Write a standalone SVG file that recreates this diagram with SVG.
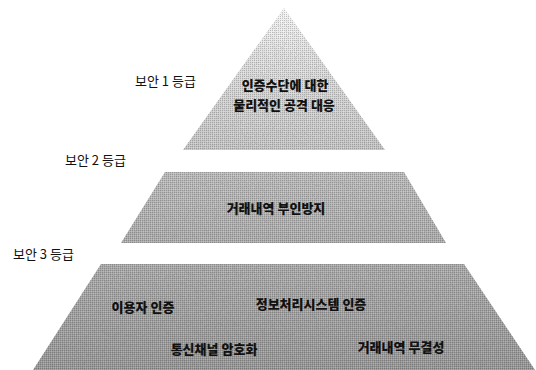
<svg xmlns="http://www.w3.org/2000/svg" width="536" height="370" viewBox="0 0 536 370">
  <style>
    .lvl { font-family: "Noto Sans CJK KR", "Noto Sans", sans-serif; font-size: 13px; fill: #111; }
    .in { font-family: "Noto Sans CJK KR", "Noto Sans", sans-serif; font-size: 13px; font-weight: 900; fill: #111; text-anchor: middle; }
    .grain { fill: url(#dither); }
    .noise { filter: url(#noise); }
  </style>
  <defs>
    <linearGradient id="g1" x1="0" y1="0" x2="0" y2="1">
      <stop offset="0" stop-color="#fbfbfb"/>
      <stop offset="0.35" stop-color="#e2e2e2"/>
      <stop offset="1" stop-color="#c6c6c6"/>
    </linearGradient>
    <linearGradient id="g2" x1="0" y1="0" x2="0" y2="1">
      <stop offset="0" stop-color="#bdbdbd"/>
      <stop offset="1" stop-color="#acacac"/>
    </linearGradient>
    <linearGradient id="g3" x1="0" y1="0" x2="0" y2="1">
      <stop offset="0" stop-color="#ababab"/>
      <stop offset="1" stop-color="#959595"/>
    </linearGradient>
    <pattern id="dither" width="2" height="2" patternUnits="userSpaceOnUse">
      <rect x="0" y="0" width="1" height="1" fill="#000" fill-opacity="0.2"/>
      <rect x="1" y="1" width="1" height="1" fill="#fff" fill-opacity="0.25"/>
    </pattern>
    <filter id="noise" x="0" y="0" width="100%" height="100%">
      <feTurbulence type="fractalNoise" baseFrequency="0.9" numOctaves="2" seed="7" result="t"/>
      <feColorMatrix in="t" type="matrix" values="0 0 0 0 0.3  0 0 0 0 0.3  0 0 0 0 0.3  0 0 0 -2.2 1.3" result="m"/>
      <feComposite in="m" in2="SourceGraphic" operator="in"/>
    </filter>
  </defs>

  <g id="level1">
    <polygon points="284,8 385,150 183,150" fill="url(#g1)"/>
    <polygon class="grain" points="284,8 385,150 183,150"/>
    <polygon class="noise" points="284,8 385,150 183,150" fill="#000" opacity="0.35"/>
    <text class="lvl" x="135" y="86">보안 1 등급</text>
    <text class="in" x="285" y="90">인증수단에 대한</text>
    <text class="in" x="284" y="110">물리적인 공격 대응</text>
  </g>

  <g id="level2">
    <polygon points="165,172 404,172 446,243 121,243" fill="url(#g2)"/>
    <polygon class="grain" points="165,172 404,172 446,243 121,243"/>
    <polygon class="noise" points="165,172 404,172 446,243 121,243" fill="#000" opacity="0.45"/>
    <text class="lvl" x="65" y="165">보안 2 등급</text>
    <text class="in" x="276" y="213">거래내역 부인방지</text>
  </g>

  <g id="level3">
    <polygon points="101,264 464,264 535,370 33,370" fill="url(#g3)"/>
    <polygon class="grain" points="101,264 464,264 535,370 33,370"/>
    <polygon class="noise" points="101,264 464,264 535,370 33,370" fill="#000" opacity="0.6"/>
    <text class="lvl" x="13" y="259">보안 3 등급</text>
    <text class="in" x="143" y="312">이용자 인증</text>
    <text class="in" x="311" y="309">정보처리시스템 인증</text>
    <text class="in" x="214" y="354">통신채널 암호화</text>
    <text class="in" x="401" y="352">거래내역 무결성</text>
  </g>
</svg>
